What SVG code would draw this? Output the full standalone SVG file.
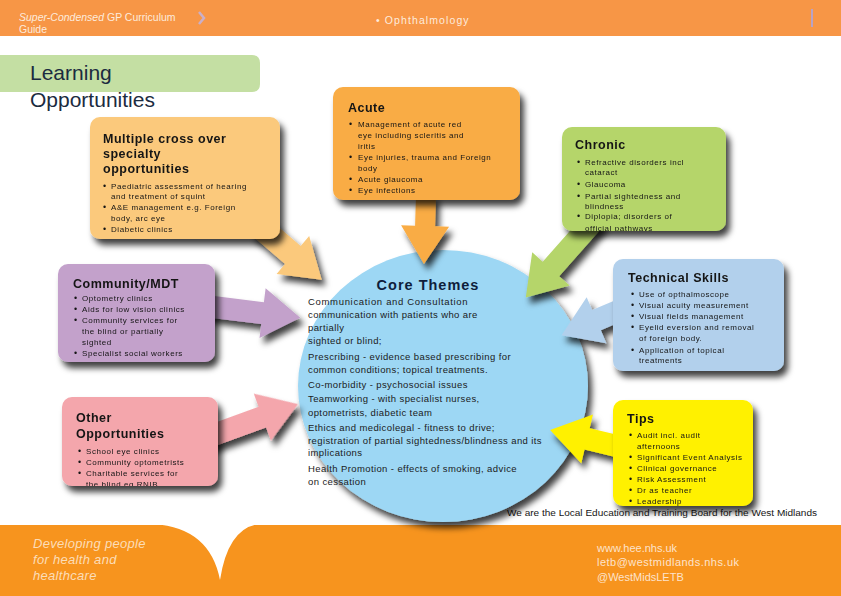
<svg xmlns="http://www.w3.org/2000/svg" width="841" height="596" viewBox="0 0 841 596">
<style>
text{font-family:"Liberation Sans",Arial,sans-serif;fill:#151515}
.hd{font-size:10.5px;fill:#FDEBDD}
.ttl{font-size:12.5px;font-weight:bold;letter-spacing:0.5px}
.li{font-size:8px;letter-spacing:0.55px}
.bu{font-size:9px}
.ct{font-size:9.5px;letter-spacing:0.4px;fill:#1b1b1b}
.ft{font-size:13px;font-style:italic;letter-spacing:0.3px;fill:#FCDDB8}
.fr{font-size:11px;fill:#FDE3CC}
</style>
<defs>
<filter id="sh" x="-30%" y="-30%" width="160%" height="170%">
<feDropShadow dx="4" dy="6" stdDeviation="3" flood-color="#000" flood-opacity="0.75"/>
</filter>
<clipPath id="cc"><rect x="562" y="127" width="164" height="104"/></clipPath>
<clipPath id="co"><rect x="62" y="397" width="156" height="89"/></clipPath>
</defs>
<rect width="841" height="596" fill="#fff"/>
<g id="header">
<rect x="0" y="0" width="841" height="36" fill="#F79646"/>
<text class="hd" x="19" y="21"><tspan font-style="italic">Super-Condensed</tspan> GP Curriculum</text>
<text class="hd" x="19" y="33">Guide</text>
<path d="M199,12 L204,18 L199,24" fill="none" stroke="#C9AFC9" stroke-width="2.5"/>
<text class="hd" x="376" y="24" letter-spacing="1.1">• Ophthalmology</text>
<rect x="811" y="9" width="2" height="18" fill="#B8A2C4"/>
</g>
<g id="footer">
<rect x="0" y="525" width="841" height="71" fill="#F7941E"/>
<path d="M154,524 Q210,528 220,580 Q228,528 259,524 Z" fill="#fff"/>
<text class="ft" x="33" y="548">Developing people</text>
<text class="ft" x="33" y="564">for health and</text>
<text class="ft" x="33" y="580">healthcare</text>
<text class="fr" x="597" y="552">www.hee.nhs.uk</text>
<text class="fr" x="597" y="566" textLength="142">letb@westmidlands.nhs.uk</text>
<text class="fr" x="597" y="581">@WestMidsLETB</text>
</g>
<g id="title">
<path d="M0,55 H252 Q260,55 260,63 V84 Q260,92 252,92 H0 Z" fill="#C4DFA3"/>
<text x="30" y="80" font-size="21" style="fill:#1B2B40">Learning</text>
<text x="30" y="107" font-size="21" style="fill:#1B2B40">Opportunities</text>
</g>
<text x="507" y="516" font-size="9.2" textLength="310" lengthAdjust="spacingAndGlyphs">We are the Local Education and Training Board for the West Midlands</text>
<g id="core">
<ellipse cx="443" cy="386" rx="145" ry="136" fill="#9DD7F4" filter="url(#sh)"/>
<text x="428" y="290" font-size="14.5" font-weight="bold" letter-spacing="1" text-anchor="middle" style="fill:#0F1E3C">Core Themes</text>
<text class="ct" x="308" y="305" textLength="160">Communication and Consultation</text>
<text class="ct" x="308" y="318">communication with patients who are</text>
<text class="ct" x="308" y="331">partially</text>
<text class="ct" x="308" y="344">sighted or blind;</text>
<text class="ct" x="308" y="360">Prescribing - evidence based prescribing for</text>
<text class="ct" x="308" y="373">common conditions; topical treatments.</text>
<text class="ct" x="308" y="388">Co-morbidity - psychosocial issues</text>
<text class="ct" x="308" y="402">Teamworking - with specialist nurses,</text>
<text class="ct" x="308" y="416">optometrists, diabetic team</text>
<text class="ct" x="308" y="431">Ethics and medicolegal - fitness to drive;</text>
<text class="ct" x="308" y="444">registration of partial sightedness/blindness and its</text>
<text class="ct" x="308" y="456">implications</text>
<text class="ct" x="308" y="472">Health Promotion - effects of smoking, advice</text>
<text class="ct" x="308" y="485">on cessation</text>
</g>
<g id="connectors" filter="url(#sh)">
<path transform="translate(258,225) rotate(40.7)" d="M0,-12 H46 V-25 L84,0 L46,25 V12 H0 Z" fill="#FBC97B"/>
<path transform="translate(426,195) rotate(91.7)" d="M0,-10 H31 V-24 L69,0 L31,24 V10 H0 Z" fill="#F9AC44"/>
<path transform="translate(596,218) rotate(131.5)" d="M0,-11 H68 V-25 L106,0 L68,25 V11 H0 Z" fill="#B5D56A"/>
<path transform="translate(205,306) rotate(7)" d="M0,-11 H58 V-25 L96,0 L58,25 V11 H0 Z" fill="#C3A1CB"/>
<path transform="translate(205,438) rotate(-20)" d="M0,-11 H61 V-25 L99,0 L61,25 V11 H0 Z" fill="#F4A6AC"/>
<path transform="translate(625,308) rotate(156.8)" d="M0,-11 H31 V-25 L69,0 L31,25 V11 H0 Z" fill="#B2D0EC"/>
<path transform="translate(625,448) rotate(193.5)" d="M0,-11 H39 V-25 L77,0 L39,25 V11 H0 Z" fill="#FFF100"/>
</g>
<g id="multiple">
<rect x="90" y="117" width="190" height="122" rx="10" fill="#FBC97B" filter="url(#sh)"/>
<text class="ttl" x="103" y="143">Multiple cross over</text>
<text class="ttl" x="103" y="158">specialty</text>
<text class="ttl" x="103" y="173">opportunities</text>
<text class="bu" x="103" y="189">•</text><text class="li" x="111" y="189">Paediatric assessment of hearing</text>
<text class="li" x="111" y="199">and treatment of squint</text>
<text class="bu" x="103" y="210">•</text><text class="li" x="111" y="210">A&amp;E management e.g. Foreign</text>
<text class="li" x="111" y="221">body, arc eye</text>
<text class="bu" x="103" y="232">•</text><text class="li" x="111" y="232">Diabetic clinics</text>
</g>
<g id="acute">
<rect x="333" y="87" width="187" height="113" rx="10" fill="#F9AC44" filter="url(#sh)"/>
<text class="ttl" x="348" y="112">Acute</text>
<text class="bu" x="349" y="127">•</text><text class="li" x="358" y="127">Management of acute red</text>
<text class="li" x="358" y="138">eye including scleritis and</text>
<text class="li" x="358" y="149">iritis</text>
<text class="bu" x="349" y="160">•</text><text class="li" x="358" y="160">Eye injuries, trauma and Foreign</text>
<text class="li" x="358" y="171">body</text>
<text class="bu" x="349" y="182">•</text><text class="li" x="358" y="182">Acute glaucoma</text>
<text class="bu" x="349" y="193">•</text><text class="li" x="358" y="193">Eye infections</text>
</g>
<g id="chronic">
<rect x="562" y="127" width="164" height="104" rx="10" fill="#B5D56A" filter="url(#sh)"/>
<text class="ttl" x="575" y="149">Chronic</text>
<g clip-path="url(#cc)">
<text class="bu" x="577" y="165">•</text><text class="li" x="585" y="165">Refractive disorders incl</text>
<text class="li" x="585" y="175">cataract</text>
<text class="bu" x="577" y="187">•</text><text class="li" x="585" y="187">Glaucoma</text>
<text class="bu" x="577" y="199">•</text><text class="li" x="585" y="199">Partial sightedness and</text>
<text class="li" x="585" y="209">blindness</text>
<text class="bu" x="577" y="219">•</text><text class="li" x="585" y="219">Diplopia; disorders of</text>
<text class="li" x="585" y="231">official pathways</text>
</g>
</g>
<g id="community">
<rect x="58" y="264" width="157" height="98" rx="10" fill="#C3A1CB" filter="url(#sh)"/>
<text class="ttl" x="73" y="288">Community/MDT</text>
<text class="bu" x="74" y="301">•</text><text class="li" x="82" y="301">Optometry clinics</text>
<text class="bu" x="74" y="312">•</text><text class="li" x="82" y="312">Aids for low vision clinics</text>
<text class="bu" x="74" y="323">•</text><text class="li" x="82" y="323">Community services for</text>
<text class="li" x="82" y="334">the blind or partially</text>
<text class="li" x="82" y="345">sighted</text>
<text class="bu" x="74" y="356">•</text><text class="li" x="82" y="356">Specialist social workers</text>
</g>
<g id="other">
<rect x="62" y="397" width="156" height="89" rx="10" fill="#F4A6AC" filter="url(#sh)"/>
<text class="ttl" x="76" y="422">Other</text>
<text class="ttl" x="76" y="438">Opportunities</text>
<g clip-path="url(#co)">
<text class="bu" x="78" y="454">•</text><text class="li" x="86" y="454">School eye clinics</text>
<text class="bu" x="78" y="465">•</text><text class="li" x="86" y="465">Community optometrists</text>
<text class="bu" x="78" y="476">•</text><text class="li" x="86" y="476">Charitable services for</text>
<text class="li" x="86" y="487">the blind eg RNIB</text>
</g>
</g>
<g id="technical">
<rect x="613" y="259" width="171" height="112" rx="10" fill="#B2D0EC" filter="url(#sh)"/>
<text class="ttl" x="628" y="282">Technical Skills</text>
<text class="bu" x="631" y="297">•</text><text class="li" x="639" y="297">Use of opthalmoscope</text>
<text class="bu" x="631" y="308">•</text><text class="li" x="639" y="308">Visual acuity measurement</text>
<text class="bu" x="631" y="319">•</text><text class="li" x="639" y="319">Visual fields management</text>
<text class="bu" x="631" y="330">•</text><text class="li" x="639" y="330">Eyelid eversion and removal</text>
<text class="li" x="639" y="341">of foreign body.</text>
<text class="bu" x="631" y="353">•</text><text class="li" x="639" y="353">Application of topical</text>
<text class="li" x="639" y="363">treatments</text>
</g>
<g id="tips">
<rect x="613" y="400" width="140" height="106" rx="10" fill="#FFF100" filter="url(#sh)"/>
<text class="ttl" x="627" y="423">Tips</text>
<text class="bu" x="629" y="438">•</text><text class="li" x="637" y="438">Audit incl. audit</text>
<text class="li" x="637" y="449">afternoons</text>
<text class="bu" x="629" y="460">•</text><text class="li" x="637" y="460">Significant Event Analysis</text>
<text class="bu" x="629" y="471">•</text><text class="li" x="637" y="471">Clinical governance</text>
<text class="bu" x="629" y="482">•</text><text class="li" x="637" y="482">Risk Assessment</text>
<text class="bu" x="629" y="493">•</text><text class="li" x="637" y="493">Dr as teacher</text>
<text class="bu" x="629" y="504">•</text><text class="li" x="637" y="504">Leadership</text>
</g>
</svg>
